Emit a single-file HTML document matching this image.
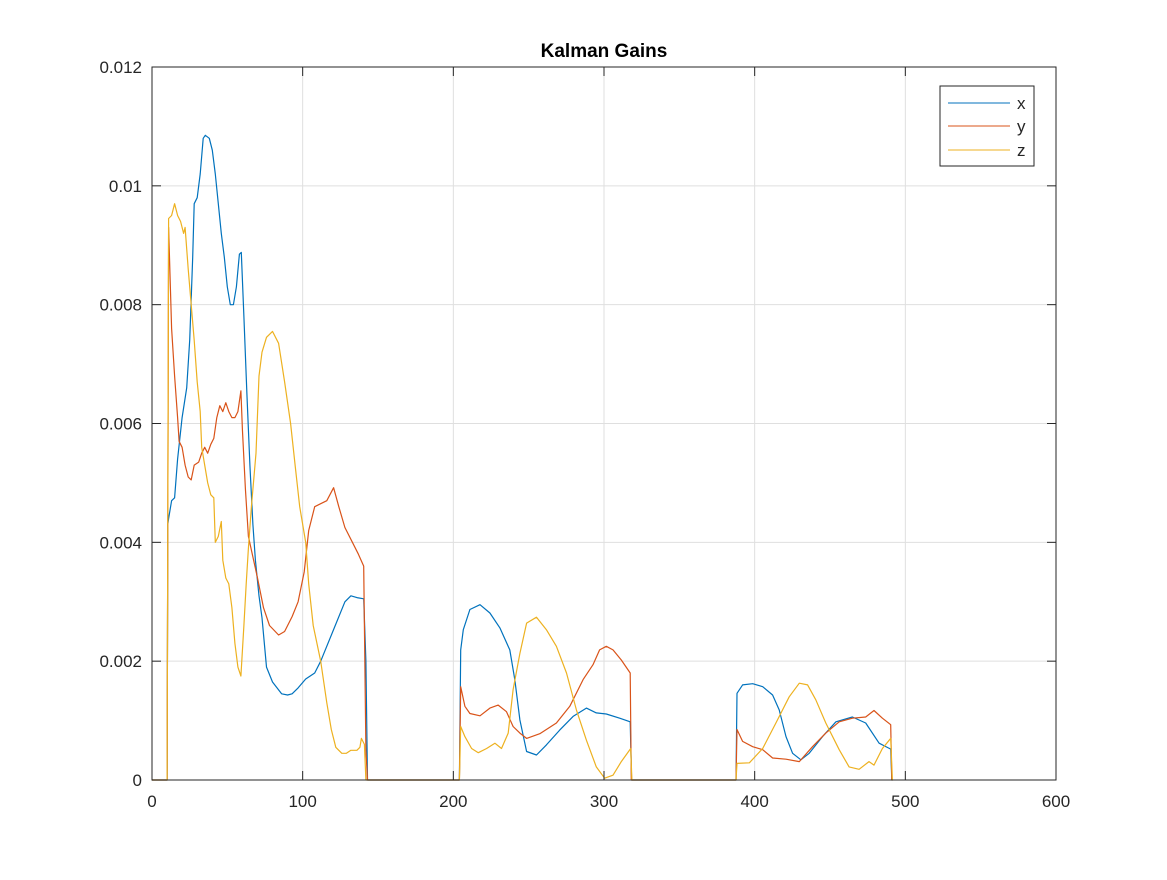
<!DOCTYPE html>
<html><head><meta charset="utf-8"><style>
body{margin:0;background:#fff;}
svg text{font-family:"Liberation Sans",sans-serif;}
</style></head><body>
<svg id="chart" width="1167" height="875">
<rect width="1167" height="875" fill="#fff"/>
<g id="grid"></g>
<g id="series"></g>
<g id="axes"></g>
<text x="604" y="57" text-anchor="middle" font-size="19" font-weight="bold">Kalman Gains</text>
<g>
<rect x="940" y="86" width="94" height="80" fill="#fff" stroke="#262626" stroke-width="1"/>
<line x1="948" y1="103" x2="1010" y2="103" stroke="#0072BD"/>
<text x="1017" y="109" font-size="17" fill="#262626">x</text>
<line x1="948" y1="126" x2="1010" y2="126" stroke="#D95319"/>
<text x="1017" y="132" font-size="17" fill="#262626">y</text>
<line x1="948" y1="150" x2="1010" y2="150" stroke="#EDB120"/>
<text x="1017" y="156" font-size="17" fill="#262626">z</text>
</g>
</svg>
<script>
const xTicks=[0,100,200,300,400,500,600];
const yTicks=[0,0.002,0.004,0.006,0.008,0.01,0.012];
const yTickLabels=["0","0.002","0.004","0.006","0.008","0.01","0.012"];
// values in units of 1e-3
const seriesX=[[0,0],[10,0],[10.5,4.3],[11,4.4],[13,4.7],[15,4.75],[17,5.4],[20,6.1],[23,6.6],[25,7.4],[27,8.8],[28,9.7],[30,9.8],[32,10.2],[34,10.8],[35.4,10.85],[38,10.8],[40,10.6],[42,10.2],[44,9.7],[46,9.2],[48,8.8],[50,8.3],[52,8.0],[54,8.0],[56,8.3],[58,8.85],[59.3,8.88],[61,7.8],[63,6.5],[65,5.3],[67,4.3],[68.6,3.7],[71,3.1],[73,2.73],[76,1.9],[80,1.65],[86,1.45],[90,1.43],[93,1.45],[97,1.55],[102,1.7],[108,1.8],[112,2.0],[120,2.5],[128,3.0],[132,3.1],[136,3.07],[140.5,3.05],[142,2.0],[143,0],
[204,0],[204.9,2.19],[206.6,2.53],[211,2.87],[217.7,2.95],[224.3,2.81],[230.9,2.56],[237.5,2.19],[240.8,1.69],[244.2,1.01],[248.6,0.48],[255.2,0.42],[261.8,0.59],[270.6,0.84],[279.5,1.07],[288.3,1.21],[294.9,1.13],[301.5,1.11],[310.4,1.04],[317.4,0.98],[318.3,0],
[387.6,0],[388.3,1.46],[392,1.60],[398.7,1.62],[405.3,1.57],[411.9,1.43],[416.3,1.18],[420.8,0.73],[425.2,0.45],[430.7,0.34],[436.2,0.45],[445,0.73],[453.9,0.98],[464.9,1.06],[473.7,0.96],[482.6,0.62],[490.3,0.52],[491,0],[491.5,0]];
const seriesY=[[0,0],[10,0],[11,9.3],[13,7.6],[15,6.8],[17,6.1],[18,5.7],[20,5.6],[22,5.3],[24,5.1],[26,5.05],[28,5.3],[31,5.35],[33,5.5],[35,5.6],[37,5.5],[39,5.65],[41,5.75],[43,6.1],[45,6.3],[47,6.2],[49,6.35],[51,6.2],[53,6.1],[55,6.1],[57,6.2],[59,6.55],[60,5.9],[62,4.9],[64,4.1],[66,3.87],[70,3.4],[74,2.9],[78,2.6],[84,2.44],[88,2.5],[93,2.75],[97,3.0],[101,3.5],[104,4.2],[108,4.6],[112,4.65],[116,4.7],[120.5,4.92],[124,4.6],[128,4.25],[133,4.0],[137,3.8],[140.5,3.6],[142,0.5],[143,0],
[204,0],[204.9,1.57],[207.7,1.24],[211,1.12],[217.7,1.08],[224.3,1.21],[229.8,1.26],[235.3,1.15],[239.7,0.9],[244.2,0.79],[248.6,0.70],[257.4,0.78],[268.4,0.96],[277.3,1.24],[286.1,1.69],[292.7,1.94],[297.1,2.19],[301.5,2.25],[306,2.19],[311.5,2.02],[317.4,1.80],[318.1,0],
[387.6,0],[388.3,0.85],[392,0.65],[398.7,0.56],[405.3,0.51],[411.9,0.37],[420.8,0.35],[429.6,0.31],[438.4,0.56],[447.2,0.79],[456.1,0.98],[464.9,1.04],[473.7,1.06],[479.2,1.17],[484.8,1.04],[490.3,0.93],[491,0],[491.5,0]];
const seriesZ=[[0,0],[10,0],[11,9.45],[13,9.5],[15,9.7],[17,9.5],[19,9.4],[21,9.2],[22,9.3],[24,8.6],[26,8.0],[28,7.4],[30,6.7],[32,6.2],[33,5.6],[35,5.3],[37,5.0],[39,4.8],[41,4.75],[42,4.0],[44,4.1],[46,4.35],[47,3.7],[49,3.4],[51,3.3],[53,2.9],[55,2.3],[57,1.9],[59,1.75],[61,2.6],[62.5,3.3],[64,3.9],[66,4.6],[69,5.5],[71,6.8],[73,7.2],[76,7.45],[80,7.55],[84,7.35],[88,6.7],[92,6.0],[95,5.3],[98,4.6],[102,4.0],[104,3.3],[107,2.6],[112,2.0],[116,1.3],[119,0.85],[122,0.55],[126,0.45],[129,0.45],[132,0.5],[136,0.5],[138,0.55],[139,0.7],[141,0.6],[142,0],[143,0],
[204,0],[204.9,0.9],[207.7,0.73],[212.1,0.53],[216.6,0.46],[222.1,0.53],[227.6,0.62],[232,0.53],[236.4,0.79],[239.7,1.52],[244.2,2.13],[248.6,2.64],[255.2,2.74],[261.8,2.53],[268.4,2.25],[275.1,1.80],[281.7,1.18],[288.3,0.67],[294.9,0.22],[300.4,0.03],[306,0.08],[311.5,0.31],[317.7,0.53],[318.5,0],
[387.6,0],[388.3,0.28],[396.5,0.29],[405.3,0.53],[414.1,0.96],[422.9,1.40],[429.6,1.63],[435.1,1.60],[440.6,1.35],[447.2,0.96],[456.1,0.51],[462.7,0.22],[469.3,0.18],[475.9,0.31],[479.2,0.25],[484.8,0.53],[490.3,0.70],[491.4,0],[491.5,0]];
const L=152,R=1056,T=67,B=780;
const sx=v=>L+(v/600)*(R-L);
const sy=v=>B-(v/0.012)*(B-T);
const NS="http://www.w3.org/2000/svg";
function mk(tag,attrs,parent){const e=document.createElementNS(NS,tag);for(const k in attrs)e.setAttribute(k,attrs[k]);parent.appendChild(e);return e;}
const grid=document.getElementById('grid'),axes=document.getElementById('axes'),ser=document.getElementById('series');
xTicks.forEach((t,i)=>{
  const l=mk('line',{x1:sx(t),x2:sx(t),y1:T,y2:B,stroke:'#dfdfdf','stroke-width':1},grid);
  
  
  mk('line',{x1:sx(t),x2:sx(t),y1:B,y2:B-9,stroke:'#262626'},axes);
  mk('line',{x1:sx(t),x2:sx(t),y1:T,y2:T+9,stroke:'#262626'},axes);
  const tx=mk('text',{x:sx(t),y:B+27,'text-anchor':'middle','font-size':17,fill:'#262626'},axes);
  tx.textContent=String(t);
  
  
});
yTicks.forEach((t,i)=>{
  const l=mk('line',{x1:L,x2:R,y1:sy(t),y2:sy(t),stroke:'#dfdfdf','stroke-width':1},grid);
  
  
  mk('line',{x1:L,x2:L+9,y1:sy(t),y2:sy(t),stroke:'#262626'},axes);
  mk('line',{x1:R,x2:R-9,y1:sy(t),y2:sy(t),stroke:'#262626'},axes);
  const tx=mk('text',{x:L-10,y:sy(t)+6,'text-anchor':'end','font-size':17,fill:'#262626'},axes);
  tx.textContent=yTickLabels[i];
  
  
});
const box=mk('rect',{x:L,y:T,width:R-L,height:B-T,fill:'none',stroke:'#262626','stroke-width':1},axes);


[[seriesX,'#0072BD','series-x'],[seriesY,'#D95319','series-y'],[seriesZ,'#EDB120','series-z']].forEach(([d,c,n])=>{
  const p=mk('polyline',{points:d.map(q=>sx(q[0]).toFixed(1)+','+sy(q[1]/1000).toFixed(1)).join(' '),fill:'none',stroke:c,'stroke-width':1.2,'stroke-linejoin':'round'},ser);
  
  
});
</script>
</body></html>
